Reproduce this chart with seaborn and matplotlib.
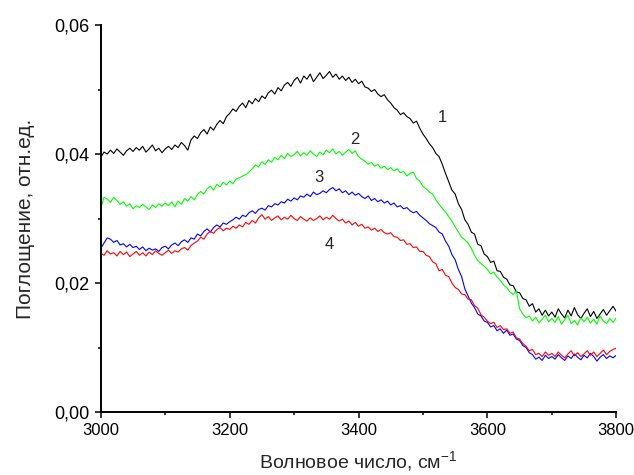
import numpy as np
import pandas as pd
import seaborn as sns
import matplotlib
matplotlib.use("Agg")
import matplotlib.pyplot as plt
from matplotlib.ticker import MultipleLocator, FuncFormatter

# wavenumber grid, cm^-1 (step 5)
wavenumber = np.arange(3000, 3801, 5)

# absorbance, in units of 1e-4
curve_1 = [
    395, 403, 400, 406, 401, 408, 403, 398, 405, 409,
    404, 410, 406, 412, 403, 408, 414, 405, 409, 402,
    408, 412, 407, 414, 410, 418, 413, 406, 422, 428,
    424, 433, 438, 431, 442, 437, 446, 452, 447, 458,
    463, 470, 466, 474, 479, 472, 483, 478, 486, 481,
    490, 486, 495, 499, 493, 503, 498, 507, 511, 505,
    514, 519, 510, 521, 516, 524, 512, 519, 526, 517,
    522, 528, 519, 524, 516, 521, 514, 519, 511, 516,
    509, 513, 504, 502, 497, 500, 493, 489, 492, 484,
    479, 472, 468, 461, 464, 458, 455, 448, 451, 440,
    431, 424, 416, 410, 401, 396, 384, 370, 357, 344,
    338, 323, 314, 298, 291, 279, 276, 260, 258, 245,
    241, 232, 234, 219, 218, 209, 206, 197, 196, 186,
    185, 176, 174, 164, 168, 155, 160, 150, 158, 149,
    155, 147, 160, 152, 146, 158, 149, 162, 151, 145,
    153, 160, 148, 156, 145, 152, 159, 150, 157, 164,
    156,
]
curve_2 = [
    316, 333, 330, 325, 333, 328, 322, 326, 319, 323,
    315, 320, 317, 322, 318, 314, 321, 317, 323, 319,
    324, 320, 326, 318, 327, 322, 331, 327, 334, 329,
    337, 342, 338, 346, 350, 344, 353, 349, 356, 352,
    358, 354, 361, 363, 366, 368, 372, 377, 383, 380,
    388, 384, 391, 387, 395, 391, 398, 393, 401, 396,
    399, 404, 397, 402, 398, 405, 400, 396, 403, 399,
    406, 402, 408, 400, 404, 398, 403, 407, 401, 405,
    396, 392, 389, 384, 387, 381, 384, 378, 381, 376,
    379, 374, 377, 371, 373, 366, 370, 372, 362, 358,
    350, 346, 341, 338, 329, 322, 316, 310, 303, 296,
    287, 279, 271, 267, 262, 254, 243, 235, 230, 226,
    221, 214, 217, 209, 204, 197, 193, 186, 182, 188,
    160, 152, 146, 149, 141, 147, 138, 144, 150, 140,
    145, 139, 148, 136, 143, 150, 137, 142, 135, 146,
    140, 147, 138, 144, 136, 149, 141, 137, 145, 139,
    146,
]
curve_3 = [
    254, 262, 270, 268, 263, 266, 259, 261, 256, 260,
    255, 257, 252, 256, 250, 254, 251, 253, 249, 255,
    257, 253, 259, 262, 258, 264, 267, 263, 270, 268,
    276, 273, 280, 284, 279, 286, 290, 287, 293, 291,
    295, 298, 302, 299, 305, 303, 309, 312, 308, 314,
    316, 313, 320, 318, 323, 321, 326, 324, 330, 327,
    332, 329, 335, 333, 338, 334, 341, 337, 339, 343,
    340, 345, 348, 343, 346, 340, 343, 337, 341, 336,
    339, 334, 331, 335, 328, 331, 326, 329, 324, 327,
    321, 324, 318, 320, 315, 317, 312, 309, 311, 305,
    301, 297, 292, 289, 286, 279, 276, 265, 257, 244,
    236, 221, 210, 191, 180, 169, 162, 152, 149, 141,
    139, 132, 134, 126, 129, 122, 127, 119, 121, 113,
    111, 103, 100, 92, 89, 82, 85, 80, 88, 83,
    86, 82, 89, 84, 80, 87, 83, 90, 85, 81,
    88, 84, 91, 86, 79, 85, 89, 83, 87, 84,
    88,
]
curve_4 = [
    246, 243, 250, 245, 247, 242, 249, 244, 248, 241,
    245, 249, 243, 247, 242, 248, 244, 250, 246, 243,
    247, 251, 246, 250, 248, 253, 255, 251, 258, 262,
    265, 271, 268, 276, 280, 277, 283, 286, 281, 285,
    283, 288, 285, 290, 287, 294, 291, 297, 293, 301,
    306, 299, 303, 297, 301, 304, 298, 302, 299, 305,
    300, 297, 303, 299, 296, 301, 297, 300, 304, 298,
    302, 299, 305, 300, 296, 299, 293, 296, 290, 294,
    288, 291, 285, 287, 282, 285, 280, 283, 278, 276,
    278, 272, 271, 266, 267, 260, 261, 255, 256, 249,
    249, 243, 241, 233, 230, 219, 221, 212, 210, 200,
    193, 190, 183, 182, 175, 174, 165, 161, 151, 147,
    141, 137, 139, 131, 134, 128, 129, 122, 124, 115,
    113, 106, 102, 95, 97, 89, 91, 86, 93, 88,
    91, 86, 93, 88, 84, 90, 95, 87, 92, 86,
    90, 95, 88, 93, 86, 91, 96, 89, 94, 97,
    99,
]

curve_names = ["1", "2", "3", "4"]
curve_colors = ["#000000", "#00ff00", "#0000ff", "#ff0000"]
# where each curve number sits (wavenumber, absorbance)
label_x = [3530, 3395, 3339, 3355]
label_y = [0.0456, 0.0422, 0.0364, 0.0259]

frames = []
for name, vals in zip(curve_names, [curve_1, curve_2, curve_3, curve_4]):
    frames.append(pd.DataFrame({"x": wavenumber, "y": np.array(vals) * 1e-4, "curve": name}))
df = pd.concat(frames, ignore_index=True)

sns.set_style("ticks")
plt.rcParams["font.family"] = ["Liberation Sans", "DejaVu Sans"]
plt.rcParams["mathtext.default"] = "regular"

fig = plt.figure(figsize=(6.34, 4.75), dpi=100)
ax = fig.add_axes([0.159, 0.1326, 0.813, 0.8147])

sns.lineplot(data=df, x="x", y="y", hue="curve", palette=curve_colors,
             linewidth=0.8, legend=False, ax=ax)

for name, lx, ly in zip(curve_names, label_x, label_y):
    ax.text(lx, ly, name, fontsize=12, ha="center", va="center")

ax.set_xlim(3000, 3800)
ax.set_ylim(0, 0.06)
ax.xaxis.set_major_locator(MultipleLocator(200))
ax.xaxis.set_minor_locator(MultipleLocator(100))
ax.yaxis.set_major_locator(MultipleLocator(0.02))
ax.yaxis.set_minor_locator(MultipleLocator(0.01))
ax.yaxis.set_major_formatter(FuncFormatter(lambda v, p: f"{v:.2f}".replace(".", ",")))

sns.despine(ax=ax)
for side in ["left", "bottom"]:
    ax.spines[side].set_linewidth(1.4)
    ax.spines[side].set_color("black")
ax.tick_params(which="major", length=4.5, width=1.1, colors="black", labelsize=12)
ax.tick_params(axis="y", labelsize=13)
ax.tick_params(which="minor", length=2.5, width=1.1, colors="black")

ax.set_xlabel("Волновое число, см$^{-1}$", fontsize=14, labelpad=8)
ax.set_ylabel("Поглощение, отн.ед.", fontsize=15, labelpad=14)

fig.savefig("out.png", dpi=100)
